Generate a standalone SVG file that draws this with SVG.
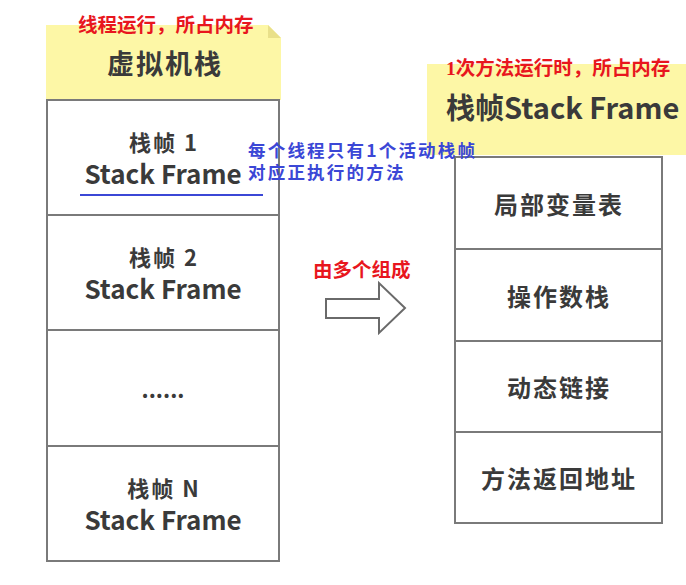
<svg xmlns="http://www.w3.org/2000/svg" width="686" height="585" viewBox="0 0 686 585">
<style>
.box{fill:#fff;stroke:#7a7a7a;stroke-width:2}
.note{fill:#fdf7a6}
.t{font-family:"Noto Sans CJK SC","Open Sans",sans-serif;font-weight:bold;fill:#3a3a3a;text-anchor:middle}
.row{font-size:24px;letter-spacing:2px}
.cn{font-size:22px;letter-spacing:2px}
.en{font-size:26px}
.red{font-family:"Noto Sans CJK SC",sans-serif;font-weight:bold;fill:#e8161e;font-size:19.5px}
.blue{font-family:"Noto Sans CJK SC",sans-serif;font-weight:bold;fill:#3b47d6;font-size:17.5px;letter-spacing:2.2px}
</style>
<rect width="686" height="585" fill="#fff"/>
<g id="vm-stack-note">
<path class="note" d="M46 25 H268 L281 38 V100 H46 Z"/>
<path d="M268 25 L281 38 H268 Z" fill="#e9e08a"/>
<text class="red" x="78" y="32">线程运行，所占内存</text>
<text class="t" x="165" y="74" font-size="27" style="letter-spacing:2px">虚拟机栈</text>
</g>
<g id="frame-1">
<rect class="box" x="47" y="100" width="232" height="115"/>
<text class="t cn" x="164" y="151">栈帧 1</text>
<text class="t en" x="163" y="184">Stack Frame</text>
<line x1="80" y1="195" x2="263" y2="195" stroke="#3b47d6" stroke-width="2"/>
</g>
<g id="frame-2">
<rect class="box" x="47" y="215" width="232" height="115"/>
<text class="t cn" x="164" y="266">栈帧 2</text>
<text class="t en" x="163" y="299">Stack Frame</text>
</g>
<g id="frame-dots">
<rect class="box" x="47" y="330" width="232" height="116"/>
<text class="t" x="163" y="398" font-size="22">......</text>
</g>
<g id="frame-n">
<rect class="box" x="47" y="446" width="232" height="115"/>
<text class="t cn" x="164" y="497">栈帧 N</text>
<text class="t en" x="163" y="530">Stack Frame</text>
</g>
<g id="connectors">
<text class="red" x="313" y="277">由多个组成</text>
<path d="M326 299 H379 V283 L405 308 L379 333 V318 H326 Z" fill="#fff" stroke="#6a6a6a" stroke-width="2" stroke-linejoin="miter"/>
</g>
<g id="frame-note">
<rect class="note" x="427" y="64" width="259" height="91"/>
<text x="446" y="75" font-family="'Liberation Serif','Noto Sans CJK SC',serif" font-weight="bold" font-size="19.5" fill="#e8161e">1<tspan font-family="'Noto Sans CJK SC',sans-serif">次方法运行时，所占内存</tspan></text>
<text x="446" y="119" font-family="'Noto Sans CJK SC','Open Sans',sans-serif" font-weight="bold" fill="#3a3a3a" font-size="29">栈帧Stack Frame</text>
</g>
<g id="local-vars">
<rect class="box" x="455" y="157" width="207" height="92"/>
<text class="t row" x="559" y="214">局部变量表</text>
</g>
<g id="operand-stack">
<rect class="box" x="455" y="249" width="207" height="92"/>
<text class="t row" x="559" y="306">操作数栈</text>
</g>
<g id="dynamic-link">
<rect class="box" x="455" y="341" width="207" height="91"/>
<text class="t row" x="559" y="397">动态链接</text>
</g>
<g id="return-addr">
<rect class="box" x="455" y="432" width="207" height="91"/>
<text class="t row" x="559" y="488">方法返回地址</text>
</g>
<g id="active-note">
<text class="blue" x="248" y="157">每个线程只有1个活动栈帧</text>
<text class="blue" x="248" y="179">对应正执行的方法</text>
</g>
</svg>
